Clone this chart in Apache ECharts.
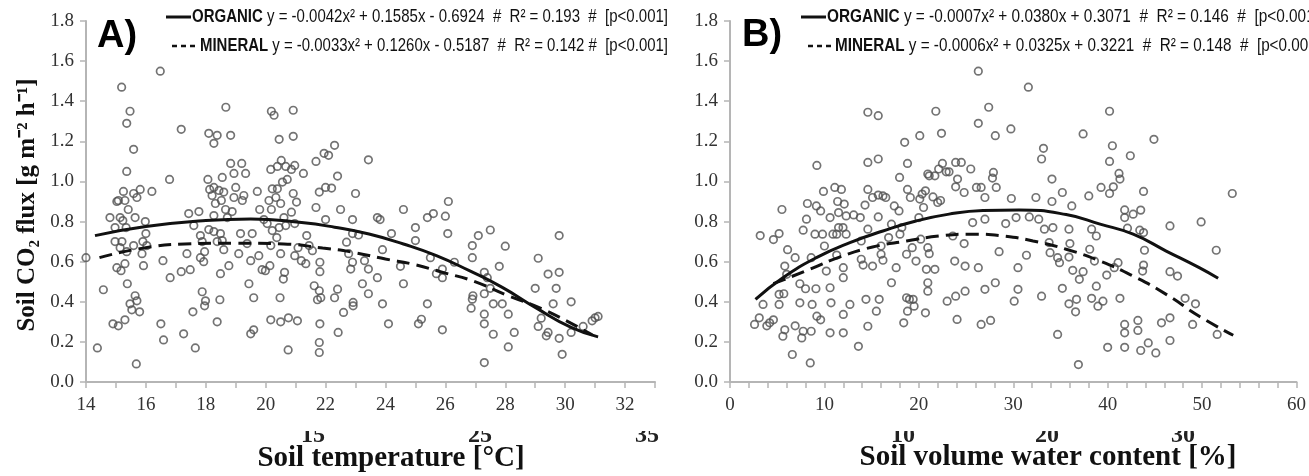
<!DOCTYPE html>
<html><head><meta charset="utf-8">
<script src="https://cdn.jsdelivr.net/npm/echarts@6/dist/echarts.min.js"></script>
<style>html,body{margin:0;padding:0;background:#fff}#c{width:1309px;height:476px}</style>
</head><body><div id="c"></div>
<script>
// ---- Panel A: soil temperature [°C] vs CO2 flux ----
const tempPoints = [[14.0,0.62],[14.38,0.17],[14.58,0.46],[14.8,0.82],[14.97,0.77],[15.03,0.90],[15.08,0.905],[15.19,1.47],[15.36,1.29],[15.47,1.35],[15.59,1.16],[15.36,1.05],[15.25,0.95],[15.3,0.905],[15.41,0.86],[15.14,0.82],[15.23,0.805],[15.34,0.77],[14.97,0.70],[15.2,0.70],[15.14,0.67],[15.03,0.57],[15.17,0.555],[15.3,0.59],[15.36,0.65],[15.38,0.49],[15.47,0.39],[15.53,0.36],[15.64,0.43],[15.7,0.405],[15.79,0.35],[15.3,0.31],[14.9,0.29],[15.08,0.28],[15.68,0.09],[15.59,0.94],[15.7,0.92],[15.81,0.96],[15.64,0.82],[15.59,0.68],[15.87,0.64],[15.92,0.58],[16.0,0.74],[15.98,0.80],[15.9,0.70],[16.2,0.95],[16.03,0.68],[16.48,1.55],[16.57,0.605],[16.5,0.29],[16.59,0.21],[16.79,1.01],[16.81,0.52],[17.18,1.26],[17.18,0.55],[17.26,0.24],[17.37,0.64],[17.43,0.84],[17.48,0.56],[17.57,0.35],[17.65,0.17],[17.6,0.78],[17.77,0.85],[17.82,0.73],[17.88,0.70],[17.82,0.62],[17.93,0.60],[17.96,0.65],[17.88,0.45],[17.99,0.405],[17.96,0.38],[18.07,1.01],[18.1,1.24],[18.27,1.19],[18.38,1.23],[18.83,1.23],[18.13,0.96],[18.21,0.93],[18.27,0.97],[18.32,0.89],[18.27,0.83],[18.44,0.955],[18.55,1.02],[18.52,0.905],[18.6,0.947],[18.66,0.86],[18.72,0.82],[18.1,0.76],[18.27,0.75],[18.49,0.74],[18.38,0.70],[18.55,0.705],[18.6,0.66],[18.49,0.54],[18.47,0.41],[18.38,0.30],[18.67,1.37],[18.83,1.09],[18.94,1.04],[19.0,0.97],[18.94,0.92],[18.88,0.85],[18.77,0.58],[19.1,0.64],[19.16,0.74],[19.2,1.09],[19.33,1.04],[19.27,0.93],[19.22,0.905],[19.38,0.69],[19.55,0.74],[19.5,0.605],[19.44,0.49],[19.6,0.42],[19.5,0.24],[19.6,0.26],[19.72,0.95],[19.8,0.86],[19.94,0.81],[19.77,0.63],[19.88,0.56],[19.99,0.555],[20.17,1.06],[20.19,1.35],[20.28,1.33],[20.39,1.075],[20.22,0.963],[20.11,0.905],[20.19,0.86],[20.05,0.79],[20.22,0.755],[20.37,0.72],[20.17,0.68],[20.14,0.58],[20.17,0.31],[20.5,0.30],[20.45,1.21],[20.52,1.105],[20.67,1.075],[20.72,1.01],[20.56,0.997],[20.39,0.963],[20.34,0.92],[20.5,0.89],[20.61,0.82],[20.45,0.77],[20.67,0.78],[20.5,0.64],[20.63,0.547],[20.59,0.513],[20.48,0.42],[20.76,0.32],[20.92,1.355],[20.92,1.225],[20.97,1.08],[20.86,1.06],[20.92,0.94],[21.03,0.897],[20.86,0.847],[20.97,0.79],[21.08,0.67],[20.97,0.63],[20.75,0.16],[21.06,0.305],[21.26,1.04],[21.37,0.73],[21.19,0.605],[21.34,0.59],[21.45,0.68],[21.56,0.655],[21.68,1.10],[21.79,0.947],[21.68,0.87],[21.62,0.48],[21.79,0.455],[21.73,0.41],[21.84,0.42],[21.81,0.29],[21.79,0.197],[21.79,0.147],[21.81,0.597],[21.81,0.55],[21.95,1.14],[22.0,0.97],
[22.1,1.13],[22.3,1.18],[22.2,0.967],[22.4,1.027],[22.5,0.86],[22.0,0.81],[22.3,0.42],[22.4,0.463],[22.42,0.247],[22.6,0.347],[22.7,0.697],[22.77,0.64],[22.9,0.597],[22.84,0.563],[22.9,0.81],[23.0,0.94],[22.9,0.74],[23.1,0.733],[22.92,0.397],[22.92,0.38],[23.23,0.49],[23.3,0.605],[23.43,0.563],[23.43,0.44],[23.43,1.108],[23.73,0.82],[23.82,0.81],[23.73,0.52],[23.9,0.66],[23.9,0.39],[24.1,0.29],[24.2,0.74],[24.5,0.577],[24.6,0.49],[24.6,0.86],[25.0,0.77],[25.0,0.705],[25.1,0.29],[25.2,0.313],[25.4,0.39],[25.4,0.82],[25.6,0.84],[25.5,0.62],[25.7,0.54],[25.9,0.52],[25.9,0.563],[25.9,0.26],[26.0,0.827],[26.1,0.9],[26.08,0.74],[26.3,0.597],[26.9,0.68],[26.9,0.62],[26.9,0.413],[26.86,0.368],[26.92,0.43],[27.1,0.73],[27.3,0.547],[27.3,0.44],[27.3,0.338],[27.3,0.29],[27.3,0.097],[27.5,0.758],[27.5,0.467],[27.4,0.52],[27.6,0.39],[27.6,0.238],[27.8,0.577],[27.9,0.39],[28.0,0.677],[28.1,0.338],[28.1,0.175],[28.3,0.247],[29.0,0.467],[29.1,0.617],[29.1,0.277],[29.2,0.318],[29.43,0.538],[29.43,0.247],[29.37,0.23],[29.6,0.39],[29.7,0.467],[29.8,0.547],[29.8,0.218],[29.8,0.73],[29.9,0.138],[30.2,0.247],[30.2,0.4],[30.6,0.277],[30.9,0.305],[31.0,0.32],[31.1,0.327]];
const tempOrganicFit = [[14.3,0.73],[16,0.775],[18,0.805],[19.5,0.813],[21.2,0.795],[22.3,0.772],[23.45,0.738],[24.6,0.688],[25.7,0.63],[26.8,0.555],[27.9,0.472],[29.0,0.372],[30.2,0.272],[31.1,0.225]];
const tempMineralFit = [[14.45,0.62],[15.8,0.665],[17.3,0.688],[18.9,0.692],[20.6,0.688],[21.9,0.668],[22.9,0.647],[24.0,0.613],[24.9,0.588],[26.0,0.543],[26.9,0.505],[28.1,0.43],[29.3,0.36],[30.9,0.235]];

// ---- Panel B: soil volume water content [%] vs CO2 flux ----
const waterPoints = [[2.6,0.287],[3.1,0.32],[3.2,0.73],[3.5,0.387],[3.9,0.28],[4.2,0.295],[4.6,0.31],[4.6,0.71],[5.2,0.74],[5.6,0.228],[5.5,0.86],[5.2,0.437],[5.2,0.387],[5.7,0.44],[5.8,0.26],[6.1,0.66],[5.8,0.578],[6.0,0.537],[6.6,0.137],[6.9,0.62],[6.9,0.28],[7.4,0.395],[7.6,0.22],[7.4,0.49],[7.75,0.757],[8.1,0.812],[7.75,0.253],[8.2,0.89],[8.0,0.465],[8.5,0.095],[8.6,0.253],[8.6,0.62],[8.7,0.387],[9.0,0.737],[9.15,0.878],[9.2,1.08],[9.1,0.465],[9.2,0.328],[9.6,0.31],[9.6,0.853],[9.8,0.737],[9.9,0.95],[10.0,0.678],[10.2,0.553],[10.6,0.245],[10.6,0.82],[10.6,0.47],[10.7,0.395],[11.1,0.97],[10.9,0.737],[11.3,0.737],[11.3,0.633],[11.4,0.9],[11.5,0.845],[11.5,0.77],[11.97,0.77],[11.8,0.96],[12.1,0.887],[12.0,0.52],[12.0,0.57],[12.0,0.337],[12.0,0.245],[12.3,0.737],[12.3,0.828],[12.7,0.387],[13.1,0.833],[13.6,0.178],[13.8,0.82],[13.9,0.703],[13.9,0.612],[14.1,0.583],[14.4,0.412],[14.3,0.882],[14.6,0.96],[14.6,1.345],[14.6,1.095],[14.6,0.278],[14.6,0.762],[15.1,0.578],[15.1,0.92],[15.5,0.353],[15.7,1.112],[15.7,0.932],[15.7,0.823],[15.7,1.328],[15.8,0.412],[16.2,0.928],[16.0,0.678],[16.0,0.637],[16.2,0.607],[16.5,0.92],[16.8,0.72],[17.1,0.495],[17.1,0.787],[17.4,0.878],[17.6,0.57],[17.9,0.853],[17.96,1.02],[18.0,0.737],[18.2,0.77],[18.4,0.295],[18.5,1.195],[18.7,0.637],[18.7,0.42],[18.8,0.96],[18.8,1.09],[18.8,0.353],[19.1,0.92],[19.0,0.412],[19.4,0.412],[19.3,0.67],[19.5,0.378],[19.7,0.603],[20.1,1.228],[20.0,0.82],[20.1,0.912],[20.2,0.712],[20.35,0.937],[20.5,0.87],[20.7,0.953],[20.7,0.345],[20.8,0.562],[20.95,1.037],[20.95,0.67],[20.95,0.495],[20.95,0.453],[21.1,0.64],[21.1,1.028],[21.5,0.923],[21.7,1.028],[21.7,0.562],[21.8,1.35],[22.0,0.895],[22.1,1.062],[22.3,0.905],[22.4,1.24],[22.5,1.09],[22.9,1.048],[23.0,0.403],[23.2,1.048],[23.6,0.728],[23.8,0.603],[23.9,0.428],[23.9,0.973],[23.9,1.095],[24.05,0.312],[24.1,1.012],[24.5,1.095],[24.8,0.945],[24.8,0.69],[24.9,0.453],[24.9,0.578],[25.5,1.062],[25.7,0.795],[26.1,0.97],[26.3,1.55],[26.3,1.29],[26.3,0.57],[26.6,0.97],[26.6,0.287],[27.0,0.92],[27.0,0.812],[27.0,0.462],[27.4,1.37],[27.6,0.307],[27.8,1.017],[27.9,1.045],[28.1,0.495],[28.1,1.228],[28.2,0.97],[28.5,0.65],[29.2,0.79],[29.75,1.262],[29.8,0.915],[30.1,0.403],[30.5,0.57],[30.5,0.462],[30.3,0.82],
[31.6,1.47],[31.4,0.632],[31.7,0.823],[32.4,0.92],[32.7,0.812],[33.0,1.112],[33.2,1.165],[33.0,0.428],[33.3,0.762],[33.8,0.695],[33.9,0.645],[34.1,1.012],[34.1,0.9],[34.2,0.77],[34.7,0.237],[34.7,0.62],[34.9,0.595],[35.2,0.945],[35.2,0.467],[35.9,0.762],[35.9,0.623],[36.0,0.69],[36.2,0.878],[36.3,0.557],[36.7,0.412],[35.9,0.39],[36.6,0.35],[36.9,0.087],[37.0,0.512],[37.4,1.237],[37.4,0.55],[38.0,0.928],[38.1,0.662],[38.3,0.762],[38.3,0.417],[38.6,0.603],[38.8,0.728],[38.8,0.478],[38.97,0.378],[39.3,0.97],[39.5,0.403],[39.9,0.533],[40.0,0.173],[40.2,1.35],[40.2,1.1],[40.2,0.94],[40.5,1.178],[40.6,0.973],[40.7,0.57],[41.1,0.595],[41.2,1.04],[41.3,1.012],[41.3,0.417],[41.8,0.858],[41.8,0.82],[41.8,0.287],[41.8,0.245],[41.8,0.173],[42.1,0.767],[42.4,1.128],[42.7,0.837],[43.2,0.307],[43.2,0.257],[43.5,0.857],[43.4,0.757],[43.5,0.157],[43.8,0.95],[43.8,0.745],[43.9,0.657],[43.8,0.583],[43.7,0.553],[44.3,0.195],[44.9,1.21],[45.1,0.145],[45.7,0.295],[46.6,0.778],[46.6,0.55],[46.6,0.32],[46.6,0.207],[47.4,0.528],[48.2,0.417],[49.0,0.287],[49.3,0.39],[49.9,0.798],[51.5,0.657],[51.6,0.237],[53.2,0.94]];
const waterOrganicFit = [[2.7,0.412],[5.6,0.52],[9.15,0.62],[12.7,0.695],[16.2,0.753],[19.7,0.803],[23.2,0.837],[26.8,0.855],[30.6,0.858],[35.6,0.835],[39.2,0.787],[42.7,0.737],[46.2,0.653],[49.7,0.57],[51.7,0.517]];
const waterMineralFit = [[4.6,0.49],[8.45,0.562],[11.6,0.623],[15.1,0.673],[18.7,0.703],[22.2,0.728],[25.7,0.737],[29.0,0.728],[32.1,0.703],[35.6,0.662],[39.2,0.603],[42.7,0.528],[46.2,0.437],[49.7,0.328],[53.3,0.233]];

// ---- texts ----
const seriesLabels = ['ORGANIC', 'MINERAL'];
const equationsA = ['y = -0.0042x\u00b2 + 0.1585x - 0.6924  #  R\u00b2 = 0.193  #  [p<0.001]', 'y = -0.0033x\u00b2 + 0.1260x - 0.5187  #  R\u00b2 = 0.142 #  [p<0.001]'];
const equationsB = ['y = -0.0007x\u00b2 + 0.0380x + 0.3071  #  R\u00b2 = 0.146  #  [p<0.001]', 'y = -0.0006x\u00b2 + 0.0325x + 0.3221  #  R\u00b2 = 0.148  #  [p<0.001]'];
const panelTitles = ['A)', 'B)'];
const xAxisTitles = ['Soil temperature [\u00b0C]', 'Soil volume water content [%]'];
const yAxisTitle = 'Soil CO\u2082 flux [g m\u207b\u00b2 h\u207b\u00b9]';
const ghostLabelsA = ['15', '25', '35'];
const ghostLabelsB = ['10', '20', '30'];

const serif = '"Liberation Serif", "Times New Roman", serif';
const sans = '"Liberation Sans", Arial, sans-serif';
const axisGray = '#b5b5b5';
const labelColor = '#333';

function xAxisCfg(grid, min, max, interval, labelEvery) {
  return {
    type: 'value', gridIndex: grid, min: min, max: max, interval: interval,
    axisLine: { show: true, lineStyle: { color: axisGray, width: 2 } },
    axisTick: { show: true, length: 6, lineStyle: { color: axisGray, width: 1.5 } },
    splitLine: { show: false },
    axisLabel: { margin: 14, fontFamily: serif, fontSize: 19, color: labelColor,
      formatter: v => (Math.round(v) % labelEvery === 0 ? String(Math.round(v)) : '') }
  };
}
function yAxisCfg(grid) {
  return {
    type: 'value', gridIndex: grid, min: 0, max: 1.8, interval: 0.2,
    axisLine: { show: true, lineStyle: { color: axisGray, width: 2 } },
    axisTick: { show: true, length: 6, lineStyle: { color: axisGray, width: 1.5 } },
    splitLine: { show: false },
    axisLabel: { margin: 12, fontFamily: serif, fontSize: 19, color: labelColor, formatter: v => v.toFixed(1) }
  };
}
const scatterStyle = { color: 'rgba(0,0,0,0)', borderColor: '#505050', borderWidth: 1.7 };

// legend drawn as text + short line keys; condensed look by horizontal scaling to the reference width
const measureCtx = document.createElement('canvas').getContext('2d');
function textWidth(t, font) { measureCtx.font = font; return measureCtx.measureText(t).width; }
const LFS = 18.5;
function legendEntry(x, y, label, eq, targetW, dashed, keyX) {
  const w = textWidth(label, 'bold ' + LFS + 'px ' + sans) + textWidth(' ' + eq, LFS + 'px ' + sans);
  const s = targetW / w;
  const items = [{
    type: 'text', x: x, y: y, scaleX: s, z: 6,
    style: { text: '{b|' + label + '}{n| ' + eq + '}', verticalAlign: 'middle', align: 'left',
      rich: { b: { fontFamily: sans, fontWeight: 'bold', fontSize: LFS, fill: '#111' },
              n: { fontFamily: sans, fontSize: LFS, fill: '#111' } } }
  }];
  if (dashed) {
    items.push({ type: 'line', z: 6, shape: { x1: keyX, y1: y, x2: keyX + 24, y2: y },
      style: { stroke: '#111', lineWidth: 2.5, lineDash: [5, 4] } });
  } else {
    items.push({ type: 'line', z: 6, shape: { x1: keyX, y1: y, x2: keyX + 25, y2: y },
      style: { stroke: '#111', lineWidth: 3 } });
  }
  return items;
}

const chart = echarts.init(document.getElementById('c'), null, { renderer: 'canvas' });
const ghostTexts = [];
[[ghostLabelsA, [313, 480, 647]], [ghostLabelsB, [903, 1047, 1183]]].forEach(([labels, xs]) => {
  labels.forEach((t, i) => ghostTexts.push({ type: 'text', x: xs[i], y: 436, z: 1,
    style: { text: t, font: 'bold 24px ' + serif, fill: '#222', align: 'center', verticalAlign: 'middle' } }));
});
const legendItems = [].concat(
  legendEntry(192, 17, seriesLabels[0], equationsA[0], 476, false, 166),
  legendEntry(200, 46, seriesLabels[1], equationsA[1], 468, true, 172),
  legendEntry(827, 17, seriesLabels[0], equationsB[0], 492, false, 801),
  legendEntry(835, 46, seriesLabels[1], equationsB[1], 486, true, 808)
);

chart.setOption({
  animation: false,
  backgroundColor: '#fff',
  grid: [
    { left: 86, top: 21, width: 569, height: 361 },
    { left: 730, top: 21, width: 567, height: 361 }
  ],
  xAxis: [xAxisCfg(0, 14, 33, 1, 2), xAxisCfg(1, 0, 60, 2, 10)],
  yAxis: [yAxisCfg(0), yAxisCfg(1)],
  series: [
    { type: 'scatter', xAxisIndex: 0, yAxisIndex: 0, data: tempPoints, symbol: 'circle', symbolSize: 7.5, itemStyle: scatterStyle, z: 2 },
    { type: 'scatter', xAxisIndex: 1, yAxisIndex: 1, data: waterPoints, symbol: 'circle', symbolSize: 7.5, itemStyle: scatterStyle, z: 2 },
    { name: 'ORGANIC', type: 'line', xAxisIndex: 0, yAxisIndex: 0, data: tempOrganicFit, smooth: 0.5, showSymbol: false, symbol: 'none', lineStyle: { color: '#111', width: 3 }, z: 5 },
    { name: 'MINERAL', type: 'line', xAxisIndex: 0, yAxisIndex: 0, data: tempMineralFit, smooth: 0.5, showSymbol: false, symbol: 'none', lineStyle: { color: '#111', width: 3, type: [13, 7] }, z: 5 },
    { name: 'ORGANIC', type: 'line', xAxisIndex: 1, yAxisIndex: 1, data: waterOrganicFit, smooth: 0.5, showSymbol: false, symbol: 'none', lineStyle: { color: '#111', width: 3 }, z: 5 },
    { name: 'MINERAL', type: 'line', xAxisIndex: 1, yAxisIndex: 1, data: waterMineralFit, smooth: 0.5, showSymbol: false, symbol: 'none', lineStyle: { color: '#111', width: 3, type: [13, 7] }, z: 5 }
  ],
  graphic: ghostTexts.concat(legendItems, [
    { type: 'rect', z: 2, shape: { x: 280, y: 421, width: 1029, height: 10 }, style: { fill: '#fff' } },
    { type: 'text', x: 117, y: 37, z: 3, style: { text: panelTitles[0], font: 'bold 38px ' + sans, fill: '#000', align: 'center', verticalAlign: 'middle' } },
    { type: 'text', x: 762, y: 36, z: 3, style: { text: panelTitles[1], font: 'bold 38px ' + sans, fill: '#000', align: 'center', verticalAlign: 'middle' } },
    { type: 'text', x: 391, y: 459, z: 3, style: { text: xAxisTitles[0], font: 'bold 29px ' + serif, fill: '#111', align: 'center', verticalAlign: 'middle' } },
    { type: 'text', x: 1048, y: 458, z: 3, style: { text: xAxisTitles[1], font: 'bold 29px ' + serif, fill: '#111', align: 'center', verticalAlign: 'middle' } },
    { type: 'text', x: 28, y: 205, rotation: Math.PI / 2, z: 3, style: { text: yAxisTitle, font: 'bold 25px ' + serif, fill: '#111', align: 'center', verticalAlign: 'middle' } }
  ])
});
</script>
</body></html>
